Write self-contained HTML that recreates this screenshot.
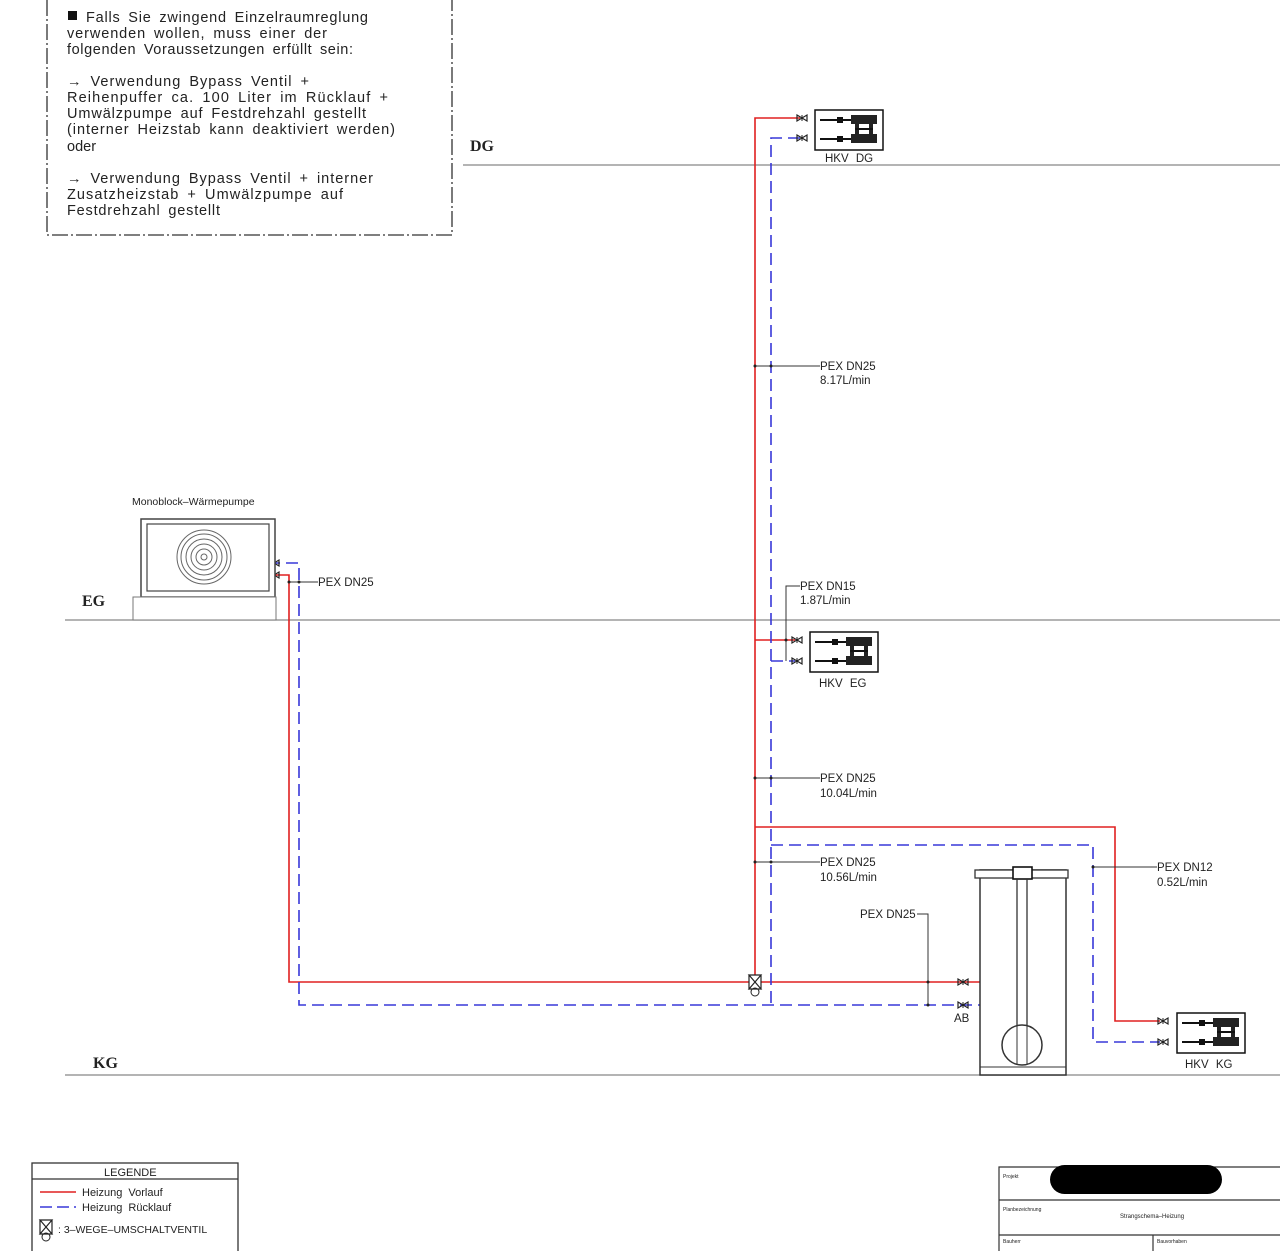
<!DOCTYPE html>
<html><head><meta charset="utf-8"><style>
html,body{margin:0;padding:0;background:#fff;}
svg{display:block;}
text{font-family:"Liberation Sans",sans-serif;fill:#222;}
.n{font-size:14.5px;word-spacing:3px;}
.l{font-size:11.5px;}
</style></head><body>
<svg width="1280" height="1251" viewBox="0 0 1280 1251" xmlns="http://www.w3.org/2000/svg">
<defs>
<g id="v"><path d="M-5,-3 L5,3 L5,-3 L-5,3 Z" fill="none" stroke="#222" stroke-width="1.2"/><line x1="0" y1="-3" x2="0" y2="3" stroke="#222"/></g>
<g id="hkv">
<rect x="0" y="0" width="68" height="40" fill="#fff" stroke="#111" stroke-width="1.5"/>
<line x1="5" y1="10" x2="36" y2="10" stroke="#111" stroke-width="2"/>
<line x1="5" y1="29" x2="36" y2="29" stroke="#111" stroke-width="2"/>
<rect x="22" y="7" width="6" height="6" fill="#111"/><rect x="22" y="26" width="6" height="6" fill="#111"/>
<rect x="36" y="5" width="26" height="9" fill="#222"/><rect x="36" y="24" width="26" height="9" fill="#222"/>
<rect x="40" y="13" width="4" height="12" fill="#222"/><rect x="54" y="13" width="4" height="12" fill="#222"/>
<line x1="40" y1="19" x2="58" y2="19" stroke="#111" stroke-width="2"/>
</g>
<g id="w3"><path d="M-6,-7 L6,-7 L-6,7 L6,7 Z M-6,-7 L-6,7 M6,-7 L6,7" fill="none" stroke="#222" stroke-width="1.2"/><circle cx="0" cy="10" r="4" fill="none" stroke="#222"/></g>
</defs>

<path d="M47,0 L47,235 L452,235 L452,0" fill="none" stroke="#333" stroke-width="1.3" stroke-dasharray="16,3,2,3"/>
<rect x="68" y="11" width="9" height="9" fill="#111"/>
<text class="n" x="86" y="22" textLength="282" lengthAdjust="spacing">Falls Sie zwingend Einzelraumreglung</text>
<text class="n" x="67" y="38" textLength="260" lengthAdjust="spacing">verwenden wollen, muss einer der</text>
<text class="n" x="67" y="54" textLength="286" lengthAdjust="spacing">folgenden Voraussetzungen erfüllt sein:</text>
<text class="n" x="67" y="86" textLength="242" lengthAdjust="spacing">→ Verwendung Bypass Ventil +</text>
<text class="n" x="67" y="102" textLength="321" lengthAdjust="spacing">Reihenpuffer ca. 100 Liter im Rücklauf +</text>
<text class="n" x="67" y="118" textLength="299" lengthAdjust="spacing">Umwälzpumpe auf Festdrehzahl gestellt</text>
<text class="n" x="67" y="134" textLength="328" lengthAdjust="spacing">(interner Heizstab kann deaktiviert werden)</text>
<text class="n" x="67" y="151">oder</text>
<text class="n" x="67" y="183" textLength="306" lengthAdjust="spacing">→ Verwendung Bypass Ventil + interner</text>
<text class="n" x="67" y="199" textLength="276" lengthAdjust="spacing">Zusatzheizstab + Umwälzpumpe auf</text>
<text class="n" x="67" y="215" textLength="153" lengthAdjust="spacing">Festdrehzahl gestellt</text>

<g stroke="#888" stroke-width="1.2">
<line x1="463" y1="165" x2="1280" y2="165"/>
<line x1="65" y1="620" x2="1280" y2="620"/>
<line x1="65" y1="1075" x2="1280" y2="1075"/>
</g>
<g font-weight="bold" font-size="16">
<text x="470" y="151" style="font-family:'Liberation Serif',serif">DG</text>
<text x="82" y="606" style="font-family:'Liberation Serif',serif">EG</text>
<text x="93" y="1068" style="font-family:'Liberation Serif',serif">KG</text>
</g>

<g fill="none" stroke="#e02020" stroke-width="1.6">
<path d="M800,118 L755,118 L755,982"/>
<path d="M755,640 L795,640"/>
<path d="M755,827 L1115,827 L1115,1021 L1160,1021"/>
<path d="M268,575 L289,575 L289,982 L998,982"/>
</g>
<circle cx="1002" cy="982" r="3" fill="#fff" stroke="#e02020" stroke-width="1.3"/>
<g fill="none" stroke="#3838d8" stroke-width="1.6" stroke-dasharray="12,6">
<path d="M800,138 L771,138 L771,1005"/>
<path d="M771,661 L795,661"/>
<path d="M771,845 L1093,845 L1093,1042 L1160,1042"/>
<path d="M268,563 L299,563 L299,1005 L998,1005"/>
</g>
<circle cx="1002" cy="1005" r="3" fill="#fff" stroke="#3838d8" stroke-width="1.3"/>

<use href="#v" x="802" y="118"/><use href="#v" x="802" y="138"/>
<use href="#v" x="797" y="640"/><use href="#v" x="797" y="661"/>
<use href="#v" x="1163" y="1021"/><use href="#v" x="1163" y="1042"/>
<use href="#v" x="274" y="563"/><use href="#v" x="274" y="575"/>
<use href="#v" x="963" y="982"/><use href="#v" x="963" y="1005"/>
<rect x="749" y="975" width="12" height="14" fill="#fff"/>
<use href="#w3" x="755" y="982"/>

<use href="#hkv" x="815" y="110"/><text class="l" x="825" y="162" word-spacing="4">HKV DG</text>
<use href="#hkv" x="810" y="632"/><text class="l" x="819" y="687" word-spacing="4">HKV EG</text>
<use href="#hkv" x="1177" y="1013"/><text class="l" x="1185" y="1068" word-spacing="4">HKV KG</text>

<text x="132" y="505" font-size="10.5">Monoblock–Wärmepumpe</text>
<rect x="141" y="519" width="134" height="78" fill="#fff" stroke="#444" stroke-width="1.5"/>
<rect x="147" y="524" width="122" height="67" fill="none" stroke="#444" stroke-width="1.2"/>
<g fill="none" stroke="#666" stroke-width="1">
<circle cx="204" cy="557" r="27"/><circle cx="204" cy="557" r="23"/><circle cx="204" cy="557" r="18"/><circle cx="204" cy="557" r="13"/><circle cx="204" cy="557" r="8"/><circle cx="204" cy="557" r="3"/>
</g>
<rect x="133" y="597" width="143" height="23" fill="#fff" stroke="#777" stroke-width="1"/>

<rect x="980" y="870" width="86" height="205" fill="#fff" stroke="#333" stroke-width="1.5"/>
<rect x="975" y="870" width="93" height="8" fill="#fff" stroke="#333" stroke-width="1.3"/>
<rect x="1013" y="867" width="19" height="12" fill="#fff" stroke="#111" stroke-width="1.6"/>
<line x1="1017" y1="879" x2="1017" y2="1030" stroke="#333" stroke-width="1.3"/>
<line x1="1027" y1="879" x2="1027" y2="1030" stroke="#333" stroke-width="1.3"/>
<circle cx="1022" cy="1045" r="20" fill="#fff" stroke="#333" stroke-width="1.5"/>
<line x1="1017" y1="1025" x2="1017" y2="1065" stroke="#333"/><line x1="1027" y1="1025" x2="1027" y2="1065" stroke="#333"/>
<line x1="980" y1="1067" x2="1066" y2="1067" stroke="#333"/>
<text class="l" x="954" y="1022">AB</text>

<g stroke="#333" stroke-width="1" fill="none">
<path d="M755,366 L820,366"/><path d="M755,778 L820,778"/><path d="M755,862 L820,862"/>
<path d="M786,661 L786,586 L800,586"/>
<path d="M1093,867 L1157,867"/>
<path d="M917,914 L928,914 L928,1005"/>
<path d="M289,582 L318,582"/>
</g>
<g fill="#222"><circle cx="755" cy="366" r="1.5"/><circle cx="771" cy="366" r="1.5"/><circle cx="755" cy="778" r="1.5"/><circle cx="771" cy="778" r="1.5"/><circle cx="755" cy="862" r="1.5"/><circle cx="771" cy="862" r="1.5"/><circle cx="1093" cy="867" r="1.5"/><circle cx="928" cy="982" r="1.5"/><circle cx="928" cy="1005" r="1.5"/><circle cx="289" cy="582" r="1.5"/><circle cx="299" cy="582" r="1.5"/><circle cx="786" cy="640" r="1.5"/></g>
<text class="l" x="820" y="370">PEX DN25</text><text class="l" x="820" y="384">8.17L/min</text>
<text class="l" x="800" y="590">PEX DN15</text><text class="l" x="800" y="604">1.87L/min</text>
<text class="l" x="820" y="782">PEX DN25</text><text class="l" x="820" y="797">10.04L/min</text>
<text class="l" x="820" y="866">PEX DN25</text><text class="l" x="820" y="881">10.56L/min</text>
<text class="l" x="1157" y="871">PEX DN12</text><text class="l" x="1157" y="886">0.52L/min</text>
<text class="l" x="860" y="918">PEX DN25</text>
<text class="l" x="318" y="586">PEX DN25</text>

<rect x="32" y="1163" width="206" height="95" fill="#fff" stroke="#333" stroke-width="1.3"/>
<line x1="32" y1="1179" x2="238" y2="1179" stroke="#333" stroke-width="1.3"/>
<text x="104" y="1176" font-size="11">LEGENDE</text>
<line x1="40" y1="1192" x2="76" y2="1192" stroke="#e02020" stroke-width="1.6"/>
<line x1="40" y1="1207" x2="76" y2="1207" stroke="#3838d8" stroke-width="1.6" stroke-dasharray="12,5"/>
<text x="82" y="1196" font-size="11" word-spacing="3">Heizung Vorlauf</text>
<text x="82" y="1211" font-size="11" word-spacing="3">Heizung Rücklauf</text>
<use href="#w3" x="46" y="1227"/>
<text x="58" y="1233" font-size="10.5">: 3–WEGE–UMSCHALTVENTIL</text>

<g stroke="#333" stroke-width="1.2" fill="none">
<path d="M999,1251 L999,1167 L1280,1167"/>
<line x1="999" y1="1200" x2="1280" y2="1200"/>
<line x1="999" y1="1235" x2="1280" y2="1235"/>
<line x1="1153" y1="1235" x2="1153" y2="1251"/>
</g>
<rect x="1050" y="1165" width="172" height="29" rx="14.5" fill="#000"/>
<text x="1003" y="1178" font-size="5">Projekt</text>
<text x="1003" y="1211" font-size="5">Planbezeichnung</text>
<text x="1120" y="1218" font-size="6">Strangschema–Heizung</text>
<text x="1003" y="1243" font-size="5">Bauherr</text>
<text x="1157" y="1243" font-size="5">Bauvorhaben</text>
</svg>
</body></html>
